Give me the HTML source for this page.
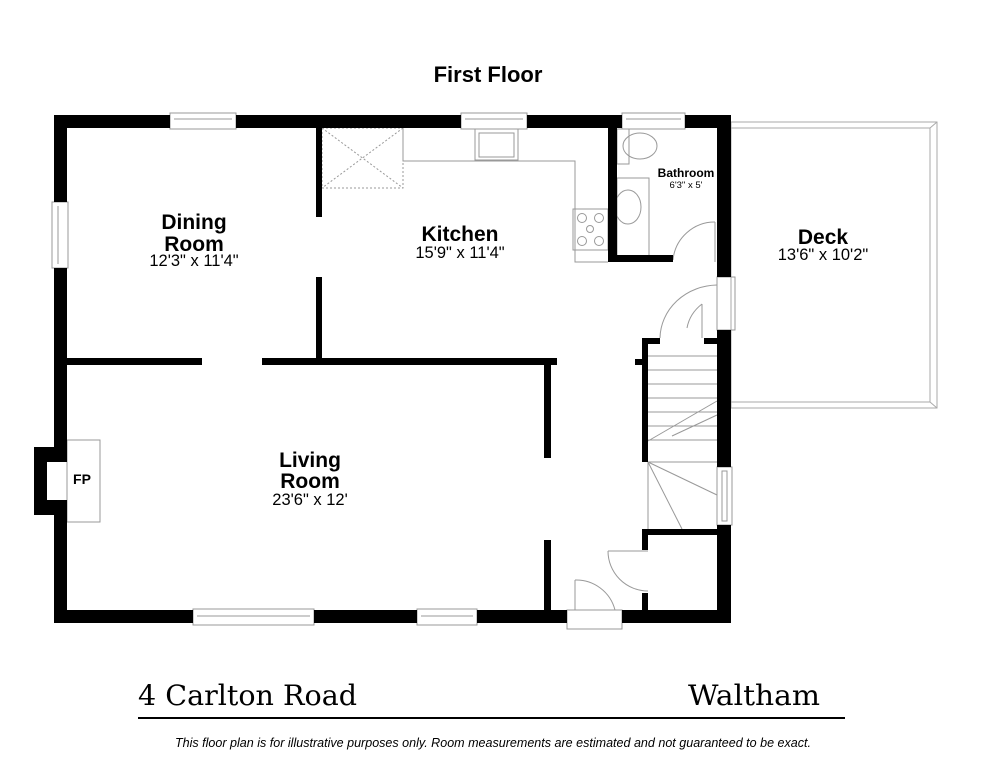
<!DOCTYPE html>
<html><head><meta charset="utf-8"><style>
html,body{margin:0;padding:0;background:#fff;}
svg{display:block;}
text{font-family:"Liberation Sans",sans-serif;fill:#000;}
.b{font-weight:bold;font-size:21px;}
.d{font-size:16.5px;}
</style></head><body>
<svg width="984" height="758" viewBox="0 0 984 758" xmlns="http://www.w3.org/2000/svg">
<rect width="984" height="758" fill="#fff"/>
<text x="488" y="82" text-anchor="middle" style="font-weight:bold;font-size:22px">First Floor</text>

<!-- Deck -->
<g fill="none" stroke="#aaa" stroke-width="1">
<rect x="731" y="122" width="206" height="286"/>
<polyline points="731,128 930,128 930,402 731,402"/>
<line x1="930" y1="128" x2="937" y2="122"/><line x1="930" y1="402" x2="937" y2="408"/>
</g>

<g fill="none" stroke="#999" stroke-width="1">
<rect x="322" y="128" width="81" height="60" stroke-dasharray="2,2"/>
<line x1="322" y1="128" x2="403" y2="188" stroke-dasharray="2,2"/>
<line x1="403" y1="128" x2="322" y2="188" stroke-dasharray="2,2"/>
<polyline points="403,128 403,161 575,161 575,262 608,262"/>
<rect x="475" y="129" width="43" height="31"/>
<rect x="479" y="133" width="35" height="24"/>
<rect x="573" y="209" width="35" height="41"/>
<circle cx="582" cy="218" r="4.5"/><circle cx="599" cy="218" r="4.5"/>
<circle cx="590" cy="229" r="3.5"/>
<circle cx="582" cy="241" r="4.5"/><circle cx="599" cy="241" r="4.5"/>
<rect x="617" y="129" width="12" height="35"/>
<ellipse cx="640" cy="146" rx="17" ry="13"/>
<rect x="617" y="178" width="32" height="78"/>
<ellipse cx="628" cy="207" rx="13" ry="17"/>
<line x1="715" y1="222" x2="715" y2="262"/>
<path d="M673,260 A42,42 0 0 1 715,222"/>
<!-- deck door -->
<rect x="717" y="277" width="18" height="53"/>
<path d="M717,285 A58,54 0 0 0 660,338"/>
<path d="M702,304 A44,40 0 0 0 687,328"/>
<line x1="702" y1="304" x2="702" y2="338"/>
<!-- stairs -->
<g>
<line x1="648" y1="356" x2="717" y2="356"/><line x1="648" y1="370" x2="717" y2="370"/>
<line x1="648" y1="384" x2="717" y2="384"/><line x1="648" y1="398" x2="717" y2="398"/>
<line x1="648" y1="412" x2="717" y2="412"/><line x1="648" y1="426" x2="717" y2="426"/>
<line x1="648" y1="440" x2="717" y2="440"/><line x1="648" y1="462" x2="717" y2="462"/>
<line x1="648" y1="441" x2="717" y2="401"/><line x1="672" y1="436" x2="717" y2="415"/>
<line x1="648" y1="462" x2="717" y2="495"/><line x1="648" y1="462" x2="682" y2="529"/>
<line x1="648" y1="462" x2="648" y2="529"/>
</g>
<rect x="717" y="467" width="15" height="58"/>
<rect x="722" y="471" width="5" height="50"/>
<path d="M608,551 A40,40 0 0 0 648,591"/>
<line x1="608" y1="551" x2="648" y2="551"/>
<rect x="567" y="610" width="55" height="19"/>
<line x1="575" y1="580" x2="575" y2="610"/>
<path d="M575,580 A40,40 0 0 1 615,610"/>
<rect x="67" y="440" width="33" height="82"/>
<rect x="170" y="113" width="66" height="16"/><line x1="174" y1="119" x2="232" y2="119"/>
<rect x="461" y="113" width="66" height="16"/><line x1="465" y1="119" x2="523" y2="119"/>
<rect x="622" y="113" width="63" height="16"/><line x1="626" y1="119" x2="681" y2="119"/>
<rect x="52" y="202" width="16" height="66"/><line x1="58" y1="206" x2="58" y2="264"/>
<rect x="193" y="609" width="121" height="16"/><line x1="197" y1="616" x2="310" y2="616"/>
<rect x="417" y="609" width="60" height="16"/><line x1="421" y1="616" x2="473" y2="616"/>
</g>

<g fill="#000">
<rect x="54" y="115" width="116" height="13"/>
<rect x="236" y="115" width="225" height="13"/>
<rect x="527" y="115" width="95" height="13"/>
<rect x="685" y="115" width="46" height="13"/>
<rect x="54" y="115" width="13" height="87"/>
<rect x="54" y="268" width="13" height="194"/>
<rect x="54" y="500" width="13" height="123"/>
<rect x="34" y="447" width="13" height="68"/>
<rect x="34" y="447" width="33" height="15"/>
<rect x="34" y="500" width="33" height="15"/>
<rect x="54" y="610" width="139" height="13"/>
<rect x="314" y="610" width="103" height="13"/>
<rect x="477" y="610" width="90" height="13"/>
<rect x="622" y="610" width="109" height="13"/>
<rect x="717" y="115" width="14" height="162"/>
<rect x="717" y="330" width="14" height="137"/>
<rect x="717" y="525" width="14" height="98"/>
<rect x="67" y="358" width="135" height="7"/>
<rect x="262" y="358" width="295" height="7"/>
<rect x="316" y="128" width="6" height="89"/>
<rect x="316" y="277" width="6" height="84"/>
<rect x="544" y="358" width="7" height="100"/>
<rect x="544" y="540" width="7" height="72"/>
<rect x="608" y="128" width="9" height="134"/>
<rect x="608" y="255" width="65" height="7"/>
<rect x="642" y="338" width="6" height="124"/>
<rect x="635" y="359" width="7" height="6"/>
<rect x="642" y="338" width="18" height="6"/>
<rect x="704" y="338" width="13" height="6"/>
<rect x="642" y="529" width="75" height="6"/>
<rect x="642" y="529" width="6" height="21"/>
<rect x="642" y="593" width="6" height="18"/>
</g>

<text class="b" x="194" y="229" text-anchor="middle">Dining</text>
<text class="b" x="194" y="251" text-anchor="middle">Room</text>
<text class="d" x="194" y="266" text-anchor="middle">12'3" x 11'4"</text>
<text class="b" x="460" y="241" text-anchor="middle">Kitchen</text>
<text class="d" x="460" y="258" text-anchor="middle">15'9" x 11'4"</text>
<text x="686" y="177" text-anchor="middle" style="font-weight:bold;font-size:12px">Bathroom</text>
<text x="686" y="188" text-anchor="middle" style="font-size:9.5px">6'3" x 5'</text>
<text class="b" x="823" y="244" text-anchor="middle">Deck</text>
<text class="d" x="823" y="260" text-anchor="middle">13'6" x 10'2"</text>
<text class="b" x="310" y="467" text-anchor="middle">Living</text>
<text class="b" x="310" y="488" text-anchor="middle">Room</text>
<text class="d" x="310" y="505" text-anchor="middle">23'6" x 12'</text>
<text x="82" y="484" text-anchor="middle" style="font-weight:bold;font-size:14px">FP</text>

<text x="138" y="705" textLength="219" lengthAdjust="spacingAndGlyphs" style="font-family:'DejaVu Serif','Liberation Serif',serif;font-size:28px">4 Carlton Road</text>
<text x="688" y="705" textLength="132" lengthAdjust="spacingAndGlyphs" style="font-family:'DejaVu Serif','Liberation Serif',serif;font-size:28px">Waltham</text>
<rect x="138" y="717" width="707" height="2" fill="#000"/>
<text x="175" y="747" textLength="636" lengthAdjust="spacingAndGlyphs" style="font-style:italic;font-size:12.5px">This floor plan is for illustrative purposes only. Room measurements are estimated and not guaranteed to be exact.</text>
</svg>
</body></html>
